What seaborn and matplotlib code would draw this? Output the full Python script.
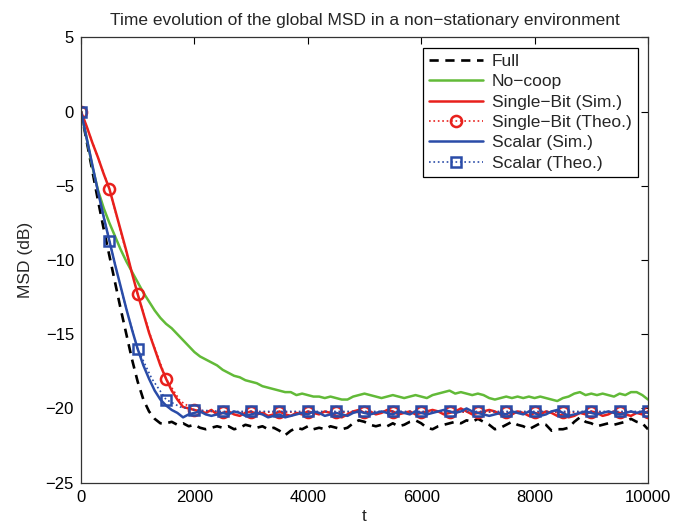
import matplotlib
matplotlib.use("Agg")
import matplotlib.pyplot as plt
import numpy as np
import seaborn as sns

# time axis of the simulated curves (step 100) and of the theoretical curves (step 250)
t_sim = np.arange(0, 10001, 100)
t_theo = np.arange(0, 10001, 250)

full_msd = [
    0.0, -2.0, -4.0, -6.0, -7.9, -9.7, -11.5, -13.3, -15.0, -16.7,
    -18.2, -19.4, -20.2, -20.7, -21.0, -21.0, -20.9, -21.1, -21.0, -21.2,
    -21.1, -21.3, -21.4, -21.3, -21.2, -21.3, -21.2, -21.4, -21.3, -21.1,
    -21.2, -21.3, -21.2, -21.4, -21.3, -21.5, -21.8, -21.5, -21.3, -21.4,
    -21.2, -21.4, -21.3, -21.4, -21.2, -21.3, -21.4, -21.3, -21.0, -20.8,
    -20.9, -21.1, -21.2, -21.1, -21.2, -21.0, -21.2, -21.1, -20.9, -20.8,
    -21.0, -21.3, -21.4, -21.2, -21.1, -21.0, -20.9, -21.0, -20.8, -20.9,
    -20.7, -20.9, -21.1, -21.4, -21.3, -21.1, -20.9, -21.1, -21.2, -21.4,
    -21.2, -21.0, -21.1, -21.5, -21.4, -21.4, -21.3, -20.9, -20.6, -20.9,
    -21.0, -21.2, -21.1, -21.0, -21.1, -21.0, -20.9, -20.7, -20.9, -21.0,
    -21.4,
]

nocoop_msd = [
    0.0, -1.8, -3.7, -5.3, -6.5, -7.5, -8.4, -9.3, -10.1, -10.8,
    -11.5, -12.2, -12.8, -13.4, -13.9, -14.3, -14.6, -15.0, -15.4, -15.8,
    -16.2, -16.5, -16.7, -16.9, -17.1, -17.4, -17.6, -17.8, -17.9, -18.1,
    -18.2, -18.3, -18.5, -18.6, -18.7, -18.8, -18.9, -18.9, -19.1, -19.0,
    -19.1, -19.2, -19.2, -19.3, -19.2, -19.3, -19.4, -19.4, -19.2, -19.1,
    -19.0, -19.1, -19.2, -19.3, -19.2, -19.1, -19.2, -19.3, -19.2, -19.1,
    -19.2, -19.3, -19.1, -19.0, -18.9, -18.8, -19.0, -18.9, -19.0, -19.1,
    -19.0, -19.1, -19.3, -19.4, -19.3, -19.2, -19.3, -19.2, -19.3, -19.2,
    -19.3, -19.2, -19.3, -19.4, -19.5, -19.3, -19.2, -19.0, -18.9, -19.1,
    -19.0, -19.1, -19.0, -19.1, -19.2, -19.0, -19.1, -18.9, -18.9, -19.1,
    -19.4,
]

single_bit_sim = [
    0.0, -1.0, -2.1, -3.1, -4.2, -5.2, -6.6, -8.0, -9.4, -10.9,
    -12.3, -13.6, -14.9, -16.0, -17.1, -18.0, -18.8, -19.4, -19.9, -20.0,
    -20.1, -20.2, -20.3, -20.1, -20.4, -20.3, -20.2, -20.4, -20.5, -20.3,
    -20.2, -20.4, -20.3, -20.5, -20.4, -20.2, -20.4, -20.5, -20.3, -20.4,
    -20.2, -20.3, -20.4, -20.2, -20.3, -20.5, -20.6, -20.4, -20.2, -20.1,
    -20.3, -20.2, -20.4, -20.3, -20.1, -20.2, -20.4, -20.3, -20.2, -20.4,
    -20.3, -20.2, -20.1, -20.2, -20.4, -20.3, -20.2, -20.0, -20.2, -20.4,
    -20.3, -20.2, -20.1, -20.2, -20.4, -20.6, -20.4, -20.2, -20.3, -20.5,
    -20.3, -20.4, -20.2, -20.3, -20.5, -20.4, -20.6, -20.5, -20.3, -20.4,
    -20.2, -20.3, -20.5, -20.4, -20.2, -20.3, -20.4, -20.5, -20.3, -20.4,
    -20.2,
]

scalar_sim = [
    0.0, -1.8, -3.6, -5.4, -7.1, -8.7, -10.3, -11.8, -13.3, -14.7,
    -16.0, -17.1, -18.0, -18.8, -19.4, -19.8, -20.1, -20.3, -20.6, -20.4,
    -20.3, -20.2, -20.4, -20.5, -20.4, -20.3, -20.4, -20.2, -20.3, -20.5,
    -20.4, -20.3, -20.4, -20.6, -20.5, -20.4, -20.6, -20.5, -20.4, -20.3,
    -20.4, -20.2, -20.3, -20.5, -20.4, -20.3, -20.4, -20.5, -20.3, -20.2,
    -20.3, -20.4, -20.3, -20.2, -20.3, -20.4, -20.2, -20.3, -20.4, -20.2,
    -20.3, -20.4, -20.3, -20.2, -20.1, -20.2, -20.3, -20.2, -20.0, -20.2,
    -20.3, -20.4, -20.5, -20.4, -20.3, -20.4, -20.2, -20.3, -20.4, -20.2,
    -20.3, -20.5, -20.4, -20.2, -20.1, -20.3, -20.5, -20.4, -20.3, -20.2,
    -20.3, -20.4, -20.3, -20.2, -20.3, -20.4, -20.3, -20.2, -20.3, -20.2,
    -20.3,
]

single_bit_theo = [
    0.0, -2.6, -5.2, -8.8, -12.3, -15.4, -18.0, -19.5, -20.1, -20.2,
    -20.25, -20.25, -20.25, -20.25, -20.25, -20.25, -20.25, -20.25, -20.25, -20.25,
    -20.25, -20.25, -20.25, -20.25, -20.25, -20.25, -20.25, -20.25, -20.25, -20.25,
    -20.25, -20.25, -20.25, -20.25, -20.25, -20.25, -20.25, -20.25, -20.25, -20.25,
    -20.25,
]

scalar_theo = [
    0.0, -4.6, -8.7, -12.6, -16.0, -18.0, -19.4, -19.9, -20.1, -20.15,
    -20.2, -20.2, -20.2, -20.2, -20.2, -20.2, -20.2, -20.2, -20.2, -20.2,
    -20.2, -20.2, -20.2, -20.2, -20.2, -20.2, -20.2, -20.2, -20.2, -20.2,
    -20.2, -20.2, -20.2, -20.2, -20.2, -20.2, -20.2, -20.2, -20.2, -20.2,
    -20.2,
]

sns.set_style("white")
plt.rcParams['font.family'] = ['Liberation Sans', 'DejaVu Sans']

fig = plt.figure(figsize=(6.87, 5.25), dpi=100)
ax = fig.add_axes([0.1179, 0.0806, 0.8253, 0.8484])

green = '#62ba38'
red = '#e8201c'
blue = '#2a4ca8'

sns.lineplot(x=t_sim, y=full_msd, ax=ax, color='black', lw=1.9,
             dashes=False, linestyle=(0, (3.5, 2.5)), label='Full')
sns.lineplot(x=t_sim, y=nocoop_msd, ax=ax, color=green, lw=1.8, label='No\u2212coop')
sns.lineplot(x=t_sim, y=single_bit_sim, ax=ax, color=red, lw=1.8,
             label='Single\u2212Bit (Sim.)')
sns.lineplot(x=t_theo, y=single_bit_theo, ax=ax, color=red, lw=1.2, linestyle=':',
             marker='o', markevery=2, markersize=8, mfc='none', mec=red, mew=1.8,
             label='Single\u2212Bit (Theo.)')
sns.lineplot(x=t_sim, y=scalar_sim, ax=ax, color=blue, lw=1.8, label='Scalar (Sim.)')
sns.lineplot(x=t_theo, y=scalar_theo, ax=ax, color=blue, lw=1.2, linestyle=':',
             marker='s', markevery=2, markersize=6.5, mfc='none', mec=blue, mew=1.8,
             label='Scalar (Theo.)')

ax.set_xlim(0, 10000)
ax.set_ylim(-25, 5)
ax.set_xticks(np.arange(0, 10001, 2000))
ax.set_yticks(np.arange(-25, 6, 5))
ax.tick_params(direction='in', top=True, right=True, length=5, width=0.8,
               labelsize=12, colors='black', pad=5)
for s in ax.spines.values():
    s.set_color('#333333')
    s.set_linewidth(0.9)

ax.set_xlabel('t', fontsize=12.5, labelpad=3)
ax.set_ylabel('MSD (dB)', fontsize=12.5, labelpad=9)
ax.set_title('Time evolution of the global MSD in a non\u2212stationary environment',
             fontsize=12.5, pad=9)

leg = ax.legend(loc='upper right', fontsize=12.5, frameon=True, fancybox=False,
                edgecolor='black', framealpha=1, handlelength=3.1, handletextpad=0.5,
                labelspacing=0.3, borderpad=0.35, borderaxespad=0.6)
leg.get_frame().set_linewidth(0.9)

fig.savefig('out.png', dpi=100)
